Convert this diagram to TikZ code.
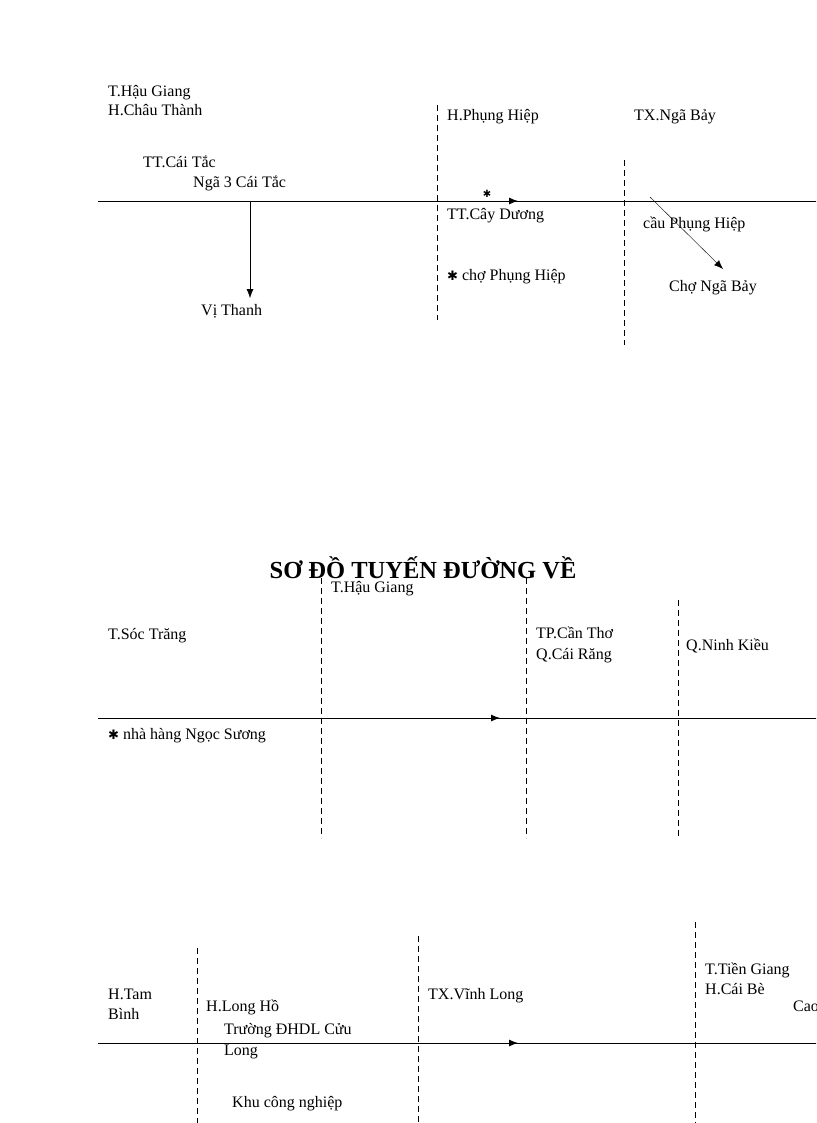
\documentclass[tikz,border=0pt]{standalone}
\usepackage{fontspec}
\usetikzlibrary{arrows.meta}
\setmainfont{Liberation Serif}
\newfontfamily\djvfont{DejaVu Sans}
\begin{document}
\begin{tikzpicture}[x=1pt,y=-1pt,
  lbl/.style={anchor=base west,inner sep=0pt,font=\fontsize{16}{18}\selectfont},
  road/.style={line width=0.9pt},
  bord/.style={dashed,dash pattern=on 6pt off 4pt,line width=0.8pt},
  arr/.style={-{Latex[length=9pt,width=7pt]}}]
\useasboundingbox (0,0) rectangle (816,1123);
\clip (0,0) rectangle (816,1123);
% section 1
\coordinate (l1a) at (98,201); \coordinate (l1b) at (820,201);
\draw[road] (l1a) -- (l1b);
\coordinate (m1a) at (480,201); \coordinate (m1b) at (518,201);
\draw[road,arr] (m1a) -- (m1b);
\coordinate (v1a) at (250,201); \coordinate (v1b) at (250,298);
\draw[arr] (v1a) -- (v1b);
\draw[bord] (437,105) -- (437,320);
\draw[bord] (624,160) -- (624,345);
\coordinate (d1a) at (650,197); \coordinate (d1b) at (723,269);
\draw[arr] (d1a) -- (d1b);
\node[inner sep=0pt,font=\djvfont\fontsize{10}{10}\selectfont] (st1) at (487,194) {✱};
\node[lbl] (a1) at (108,97) {T.Hậu Giang};
\node[lbl] (a2) at (108,116) {H.Châu Thành};
\node[lbl] (a3) at (143,168) {TT.Cái Tắc};
\node[lbl] (a4) at (193,188) {Ngã 3 Cái Tắc};
\node[lbl] (a5) at (447,121) {H.Phụng Hiệp};
\node[lbl] (a6) at (634,121) {TX.Ngã Bảy};
\node[lbl] (a7) at (447,220) {TT.Cây Dương};
\node[lbl] (a8) at (447,280) {{\djvfont\fontsize{13}{13}\selectfont ✱} chợ Phụng Hiệp};
\node[lbl] (a9) at (643,229) {cầu Phụng Hiệp};
\node[lbl] (a10) at (669,291) {Chợ Ngã Bảy};
\node[lbl] (a11) at (201,315) {Vị Thanh};
% title
\node[anchor=base,inner sep=0pt,font=\bfseries\fontsize{24.5}{26}\selectfont] (title) at (423,578) {SƠ ĐỒ TUYẾN ĐƯỜNG VỀ};
% section 2
\draw[road] (98,718) -- (820,718);
\coordinate (m2a) at (460,718); \coordinate (m2b) at (500,718);
\draw[road,arr] (m2a) -- (m2b);
\draw[bord] (321,578) -- (321,838);
\draw[bord] (526,578) -- (526,838);
\draw[bord] (678,600) -- (678,838);
\node[lbl] (b1) at (331,592) {T.Hậu Giang};
\node[lbl] (b2) at (108,639) {T.Sóc Trăng};
\node[lbl] (b3) at (536,638) {TP.Cần Thơ};
\node[lbl] (b4) at (536,659) {Q.Cái Răng};
\node[lbl] (b5) at (686,650) {Q.Ninh Kiều};
\node[lbl] (b6) at (108,739) {{\djvfont\fontsize{13}{13}\selectfont ✱} nhà hàng Ngọc Sương};
% section 3
\draw[road] (98,1043) -- (820,1043);
\coordinate (m3a) at (480,1043); \coordinate (m3b) at (518,1043);
\draw[road,arr] (m3a) -- (m3b);
\draw[bord] (197,948) -- (197,1123);
\draw[bord] (418,936) -- (418,1123);
\draw[bord] (695,922) -- (695,1123);
\node[lbl] (c1) at (108,999) {H.Tam};
\node[lbl] (c2) at (108,1019) {Bình};
\node[lbl] (c3) at (206,1011) {H.Long Hồ};
\node[lbl] (c4) at (224,1034) {Trường ĐHDL Cửu};
\node[lbl] (c5) at (224,1055) {Long};
\node[lbl] (c6) at (232,1107) {Khu công nghiệp};
\node[lbl] (c7) at (428,999) {TX.Vĩnh Long};
\node[lbl] (c8) at (705,974) {T.Tiền Giang};
\node[lbl] (c9) at (705,994) {H.Cái Bè};
\node[lbl] (c10) at (793,1011) {Cao};
\end{tikzpicture}
\end{document}
